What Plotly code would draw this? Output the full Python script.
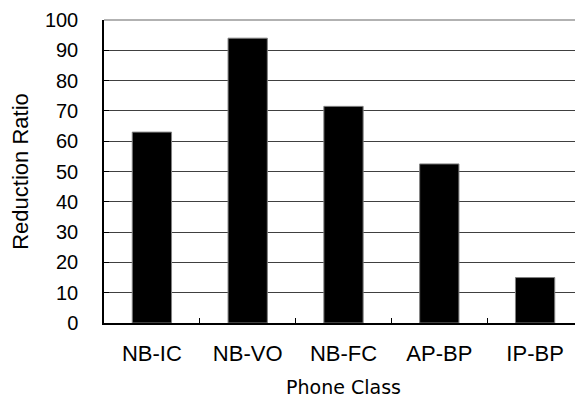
import plotly.graph_objects as go

categories = ["NB-IC", "NB-VO", "NB-FC", "AP-BP", "IP-BP"]
reduction_ratio = [63, 94, 71.5, 52.5, 15]
y_ticks = [0, 10, 20, 30, 40, 50, 60, 70, 80, 90, 100]

fig = go.Figure(
    go.Bar(
        x=categories,
        y=reduction_ratio,
        marker=dict(color="black", line=dict(color="#808080", width=1)),
    )
)

# page has an 8px body margin, so the figure is sized to fill the rest
fig.update_layout(
    width=575,
    height=390,
    margin=dict(l=96, r=0, t=12, b=75),
    plot_bgcolor="white",
    paper_bgcolor="white",
    bargap=0.59,
    showlegend=False,
    font=dict(family="Liberation Sans, Arial, sans-serif", color="black"),
)

fig.update_yaxes(
    range=[0, 100],
    tickvals=y_ticks,
    ticks="inside",
    ticklen=5,
    tickcolor="black",
    showgrid=True,
    gridcolor="#404040",
    gridwidth=1,
    showline=True,
    linecolor="black",
    linewidth=1.5,
    zeroline=False,
    tickfont=dict(size=20),
    ticklabelstandoff=20,
    title=dict(text="Reduction Ratio", font=dict(size=22), standoff=14),
)

fig.update_xaxes(
    tickson="boundaries",
    ticks="inside",
    ticklen=5,
    tickcolor="black",
    showline=True,
    linecolor="black",
    linewidth=1.5,
    showgrid=False,
    tickfont=dict(size=22),
    ticklabelstandoff=10,
    title=dict(text="Phone Class", font=dict(size=19, family="DejaVu Sans, sans-serif"), standoff=17),
)

# light gray top frame line
fig.add_shape(type="line", xref="paper", yref="paper", x0=0, x1=1, y0=1, y1=1,
              line=dict(color="#999999", width=1.5), layer="above")

fig.write_html("out.html")
